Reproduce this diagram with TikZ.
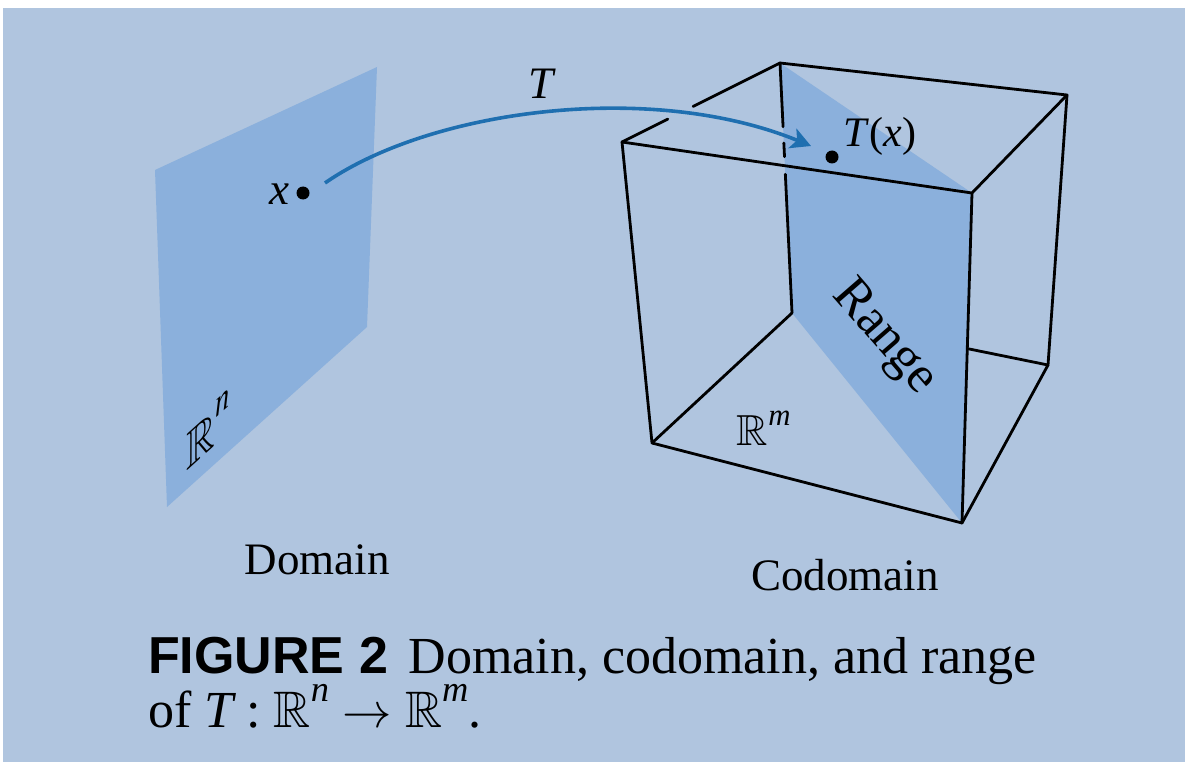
\documentclass[tikz,border=0pt]{standalone}
\usepackage{amsmath,amssymb}
\usepackage{graphicx}
\usepackage{fontspec}
\setmainfont{Liberation Serif}
\newfontfamily\capsans{Liberation Sans}
\usetikzlibrary{arrows.meta,calc}
\definecolor{paper}{HTML}{B0C5DF}
\definecolor{planeblue}{HTML}{8BB0DC}
\definecolor{arrowblue}{HTML}{1F6FB0}
\newcommand{\fs}[1]{\fontsize{#1}{#1}\selectfont}
\newcommand{\bbR}{\resizebox{!}{0.68em}{$\mathbb{R}$}}
\newcommand{\bigto}{\resizebox{0.95em}{!}{$\rightarrow$}}
\begin{document}
\begin{tikzpicture}[x=1pt,y=-1pt,
  edge/.style={line width=2.8pt, line cap=round, line join=round, black},
  lbl/.style={inner sep=0pt, font=\fs{45}},
  dotmark/.style={circle, fill=black, inner sep=0pt, minimum size=13pt},
  maparrow/.style={line width=3.6pt, arrowblue, -{Stealth[length=20pt,width=21pt,inset=5pt]}}]
\useasboundingbox (0,0) rectangle (1185,762);
\fill[white] (0,0) rectangle (1185,762);
\fill[paper] (3,8) rectangle (1185,762);

% domain plane
\fill[planeblue] (155,170) -- (377,67) -- (367,327) -- (167,507) -- cycle;

% cube corners
\coordinate (FTL) at (622,142);
\coordinate (FTR) at (972,193);
\coordinate (FBR) at (962,523);
\coordinate (FBL) at (652,443);
\coordinate (BTL) at (780,63);
\coordinate (BTR) at (1067,95);
\coordinate (BBR) at (1048,365);
\coordinate (BBL) at (792,313);

% range plane
\fill[planeblue] (BTL) -- (FTR) -- (FBR) -- (BBL) -- cycle;

% cube edges
\draw[edge] (FTL) -- (FTR) -- (FBR) -- (FBL) -- cycle;
\draw[edge] (FTL) -- ($(FTL)!0.29!(BTL)$);
\draw[edge] ($(FTL)!0.45!(BTL)$) -- (BTL);
\draw[edge] (BTL) -- (BTR) -- (FTR);
\draw[edge] (BTR) -- (BBR) -- (FBR);
\draw[edge] (BBR) -- (intersection of BBL--BBR and FTR--FBR);
\draw[edge] (BBL) -- (FBL);
\draw[edge] (BTL) -- ($(BTL)!0.255!(BBL)$);
\draw[edge] ($(BTL)!0.32!(BBL)$) -- ($(BTL)!0.375!(BBL)$);
\draw[edge] ($(BTL)!0.445!(BBL)$) -- (BBL);

% points
\node[dotmark] (xdot) at (303,193) {};
\node[dotmark] (txdot) at (832,157) {};
\coordinate (tip) at (811,146);
\draw[maparrow] (325,183) .. controls (430,110) and (650,80) .. (tip);

% labels
\node[lbl] (xlab) at (279,194) {\itshape x};
\node[lbl] (tlab) at (541,84) {\itshape T};
\node[lbl, font=\fs{42}] (txlab) at (880,136) {\textit{T}(\textit{x})};
\node[lbl, font=\fs{44}] (rm) at (764,428) {$\bbR^{\text{\itshape m}}$};
\node[lbl, font=\fs{52}, rotate=-49] (range) at (884,338) {Range};
\node[lbl, font=\fs{54}, rotate=42, yscale=0.74, xslant=0.67, transform shape] (rn) at (208,430) {$\bbR^{\text{\itshape n}}$};
\node[lbl] (dom) at (317,560) {Domain};
\node[lbl] (cod) at (845,575) {Codomain};

% caption
\node[lbl, font=\fs{52}, anchor=base west] (cap1) at (148,673)
  {{\capsans\bfseries FIGURE 2}\hspace{0.4em}Domain, codomain, and range};
\node[lbl, font=\fs{52}, anchor=base west] (cap2) at (148,727)
  {of {\itshape T} : $\bbR^{\text{\itshape n}}$ \bigto{} $\bbR^{\text{\itshape m}}$.};
\end{tikzpicture}
\end{document}
